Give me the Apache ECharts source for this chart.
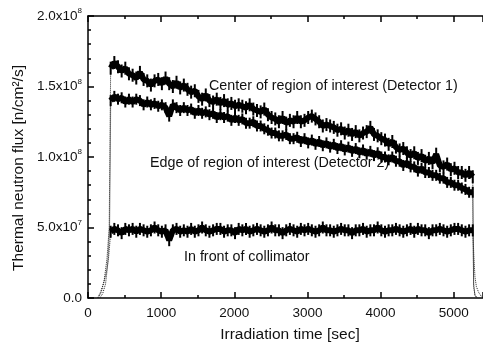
<!DOCTYPE html>
<html>
<head>
<meta charset="utf-8">
<script src="https://cdn.jsdelivr.net/npm/echarts@6/dist/echarts.min.js"></script>
<style>
  html, body { margin: 0; padding: 0; background: #fff; }
  #chart { width: 483px; height: 344px; }
</style>
</head>
<body>
<div id="chart"></div>
<script>
// flux values in units of 1e8 n/cm2/s
// plateau samples start at t0 and are dt seconds apart
const t0 = 310;
const dt = 50;

const det1 = [
  1.63, 1.67, 1.64, 1.61, 1.63, 1.59, 1.58, 1.56, 1.60, 1.55,
  1.54, 1.51, 1.54, 1.55, 1.52, 1.56, 1.52, 1.50, 1.53, 1.49,
  1.51, 1.48, 1.46, 1.47, 1.43, 1.41, 1.44, 1.40, 1.39, 1.41,
  1.38, 1.40, 1.37, 1.38, 1.36, 1.37, 1.36, 1.35, 1.37, 1.34,
  1.33, 1.32, 1.34, 1.30, 1.28, 1.27, 1.25, 1.28, 1.24, 1.26,
  1.25, 1.28, 1.25, 1.26, 1.28, 1.29, 1.27, 1.25, 1.22, 1.23,
  1.22, 1.21, 1.19, 1.20, 1.17, 1.19, 1.16, 1.18, 1.15, 1.17,
  1.18, 1.21, 1.16, 1.15, 1.13, 1.12, 1.09, 1.11, 1.07, 1.05,
  1.06, 1.03, 1.01, 1.03, 0.99, 1.01, 0.97, 0.99, 0.96, 1.02,
  0.94, 0.93, 0.95, 0.91, 0.92, 0.89, 0.89, 0.87, 0.89, 0.86
];

const det2 = [
  1.40, 1.43, 1.41, 1.42, 1.39, 1.41, 1.39, 1.41, 1.40, 1.37,
  1.39, 1.37, 1.38, 1.36, 1.37, 1.35, 1.29, 1.37, 1.35, 1.33,
  1.35, 1.33, 1.34, 1.31, 1.33, 1.31, 1.32, 1.30, 1.31, 1.28,
  1.30, 1.28, 1.29, 1.26, 1.28, 1.26, 1.27, 1.24, 1.24, 1.25,
  1.22, 1.22, 1.20, 1.19, 1.17, 1.17, 1.15, 1.15, 1.16, 1.13,
  1.13, 1.14, 1.11, 1.13, 1.10, 1.12, 1.09, 1.11, 1.08, 1.10,
  1.07, 1.09, 1.06, 1.08, 1.05, 1.07, 1.04, 1.06, 1.03, 1.05,
  1.02, 1.04, 1.01, 1.03, 1.00, 1.00, 0.98, 1.00, 0.97, 0.97,
  0.94, 0.96, 0.93, 0.93, 0.90, 0.92, 0.89, 0.89, 0.87, 0.87,
  0.85, 0.85, 0.82, 0.82, 0.80, 0.80, 0.78, 0.77, 0.75, 0.75
];

const collim = [
  0.47, 0.49, 0.48, 0.46, 0.49, 0.48, 0.49, 0.47, 0.49, 0.48,
  0.47, 0.48, 0.50, 0.48, 0.47, 0.48, 0.41, 0.48, 0.49, 0.47,
  0.48, 0.47, 0.49, 0.47, 0.48, 0.50, 0.48, 0.47, 0.48, 0.49,
  0.49, 0.47, 0.48, 0.48, 0.46, 0.49, 0.48, 0.49, 0.47, 0.48,
  0.49, 0.48, 0.47, 0.48, 0.50, 0.48, 0.48, 0.46, 0.48, 0.49,
  0.48, 0.47, 0.49, 0.48, 0.49, 0.48, 0.47, 0.48, 0.50, 0.48,
  0.48, 0.47, 0.48, 0.49, 0.48, 0.48, 0.46, 0.48, 0.48, 0.49,
  0.47, 0.48, 0.48, 0.50, 0.48, 0.47, 0.48, 0.48, 0.49, 0.48,
  0.47, 0.48, 0.49, 0.47, 0.49, 0.48, 0.48, 0.46, 0.48, 0.48,
  0.49, 0.48, 0.47, 0.48, 0.49, 0.49, 0.48, 0.47, 0.48, 0.48
];

// start-up and shut-down parts, [time, flux]
const det1Rise = [[140, 0], [180, 0.04], [220, 0.12], [260, 0.28], [290, 0.5], [300, 1.1], [310, 1.63]];
const det2Rise = [[160, 0], [200, 0.03], [240, 0.1], [270, 0.24], [295, 0.5], [305, 1.0], [310, 1.40]];
const collimRise = [[130, 0], [170, 0.04], [210, 0.1], [250, 0.18], [280, 0.28], [300, 0.4], [310, 0.47]];
const det1Fall = [[5260, 0.86], [5265, 0.5], [5272, 0.1], [5290, 0.02], [5320, 0]];
const det2Fall = [[5260, 0.75], [5265, 0.4], [5272, 0.08], [5290, 0.02], [5320, 0]];
const collimFall = [[5260, 0.48], [5275, 0.3], [5290, 0.15], [5310, 0.08], [5340, 0.04], [5380, 0.01], [5400, 0]];

const xTickLabels = ["0", "1000", "2000", "3000", "4000", "5000"];
const yTickBase = ["0.0", "5.0x10", "1.0x10", "1.5x10", "2.0x10"];
const yTickExp = ["", "7", "8", "8", "8"];

const font = "Liberation Sans";

function plateau(vals) {
  return vals.map((v, i) => [t0 + i * dt, v]);
}

const rampLine = { color: "#222", width: 1, type: "dotted" };

function band(name, vals, width, h) {
  return {
    name: name,
    type: "line",
    data: plateau(vals),
    symbol: "rect",
    symbolSize: [2, h],
    showAllSymbol: true,
    itemStyle: { color: "#000" },
    lineStyle: { color: "#000", width: width },
  };
}

function ramp(vals) {
  return { type: "line", data: vals, symbol: "none", lineStyle: rampLine };
}

const chart = echarts.init(document.getElementById("chart"));

const xCommon = {
  type: "value",
  min: 0,
  max: 5400,
  interval: 1000,
  axisLine: { lineStyle: { color: "#000", width: 1.5 } },
  axisTick: { inside: true, length: 6, lineStyle: { color: "#000", width: 1.5 } },
  minorTick: { show: true, splitNumber: 2, length: 3, lineStyle: { color: "#000", width: 1.5 } },
  splitLine: { show: false },
};

const option = {
  animation: false,
  grid: { left: 88, top: 16, right: -2, bottom: 46 },
  xAxis: [
    Object.assign({}, xCommon, {
      position: "bottom",
      axisLabel: {
        margin: 8,
        color: "#111",
        fontFamily: font,
        fontSize: 13.5,
        showMaxLabel: false,
        formatter: (v) => xTickLabels[v / 1000] || "",
      },
    }),
    Object.assign({}, xCommon, {
      position: "top",
      axisLabel: { show: false },
    }),
  ],
  yAxis: {
    type: "value",
    min: 0,
    max: 2,
    interval: 0.5,
    axisLine: { show: true, lineStyle: { color: "#000", width: 1.5 } },
    axisTick: { inside: true, length: 6, lineStyle: { color: "#000", width: 1.5 } },
    minorTick: { show: true, splitNumber: 5, length: 3, lineStyle: { color: "#000", width: 1.5 } },
    splitLine: { show: false },
    axisLabel: {
      margin: 6,
      color: "#111",
      fontFamily: font,
      fontSize: 13.5,
      formatter: (v) => {
        const i = Math.round(v / 0.5);
        if (!yTickExp[i]) return "{b|" + yTickBase[i] + "}";
        return "{b|" + yTickBase[i] + "}{s|" + yTickExp[i] + "}";
      },
      rich: {
        b: { fontFamily: font, fontSize: 13.5, color: "#111" },
        s: { fontFamily: font, fontSize: 8, color: "#111", verticalAlign: "bottom", padding: [0, 0, 10, 0] },
      },
    },
  },
  series: [
    band("Detector 1", det1, 6, 13),
    band("Detector 2", det2, 6, 11),
    band("Collimator", collim, 6, 12),
    ramp(det1Rise),
    ramp(det2Rise),
    ramp(collimRise),
    ramp(det1Fall),
    ramp(det2Fall),
    ramp(collimFall),
  ],
  graphic: [
    {
      type: "text", left: 209, top: 79,
      style: { text: "Center of region of interest (Detector 1)", fill: "#111", font: "14.3px " + font },
    },
    {
      type: "text", left: 150, top: 156,
      style: { text: "Edge of region of interest (Detector 2)", fill: "#111", font: "14.3px " + font },
    },
    {
      type: "text", left: 184, top: 250,
      style: { text: "In front of collimator", fill: "#111", font: "14.3px " + font },
    },
    {
      type: "text", x: 19, y: 168, rotation: Math.PI / 2,
      style: { text: "Thermal neutron flux [n/cm²/s]", fill: "#111", font: "15.5px " + font, align: "center", verticalAlign: "middle" },
    },
    {
      type: "text", x: 290, y: 335,
      style: { text: "Irradiation time [sec]", fill: "#111", font: "15.5px " + font, align: "center", verticalAlign: "middle" },
    },
  ],
};

chart.setOption(option);
</script>
</body>
</html>
